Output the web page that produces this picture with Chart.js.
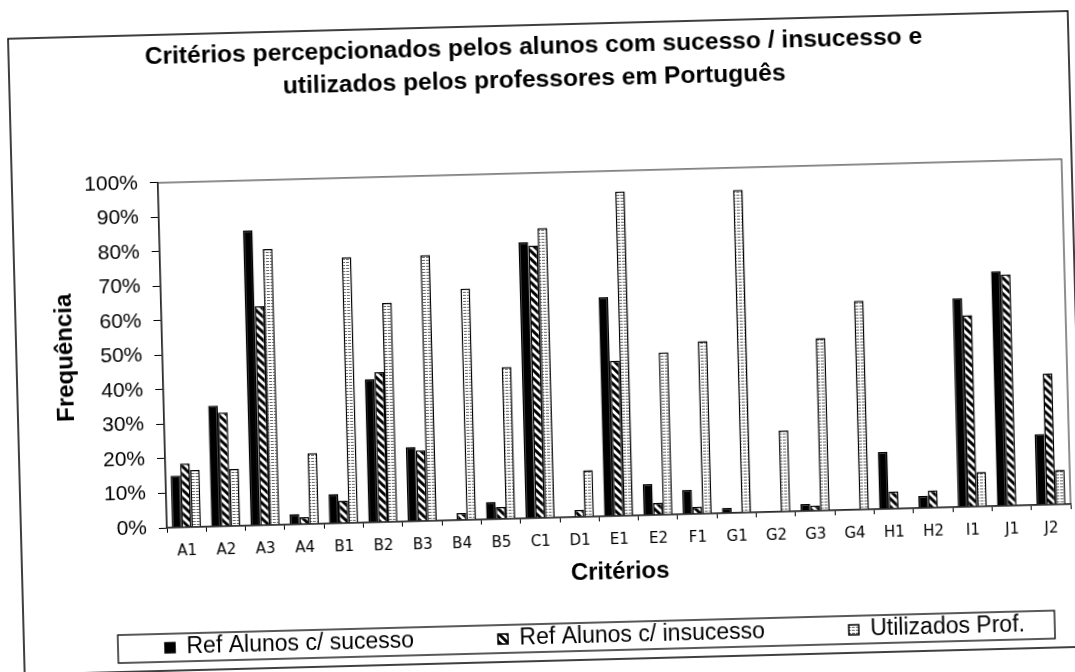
<!DOCTYPE html>
<html>
<head>
<meta charset="utf-8">
<script src="https://cdn.jsdelivr.net/npm/chart.js@4.4.1/dist/chart.umd.min.js"></script>
<style>
  html, body { margin: 0; padding: 0; background: #ffffff; overflow: hidden; width: 1075px; height: 672px; }
  #wrap { position: absolute; left: -12px; top: -14px; width: 1100px; height: 760px;
          transform: rotate(-1.5deg); transform-origin: 549.5px 350px; }
  canvas { display: block; }
</style>
</head>
<body>
<div id="wrap"><canvas id="c" width="1100" height="760"></canvas></div>
<script>
// ---- data ----
const categories = ['A1','A2','A3','A4','B1','B2','B3','B4','B5','C1','D1','E1','E2','F1','G1','G2','G3','G4','H1','H2','I1','J1','J2'];
const sucesso    = [15, 35, 85.5, 3, 8.5, 41.5, 21.5, 0, 5, 80, 0, 63.5, 9, 7, 1.5, 0, 2, 0, 16.5, 3.5, 60.5, 68, 20.5];
const insucesso  = [18.5, 33, 63.5, 2, 6.5, 43.5, 20.5, 2, 3.5, 79, 2, 45, 3.5, 2, 0, 0, 1.5, 0, 5, 5, 55.5, 67, 38];
const utilizados = [16.5, 16.5, 80, 20.5, 77, 63.5, 77, 67, 44, 84, 13.5, 94, 47, 50, 93.5, 23.5, 50, 60.5, 0, 0, 10, 0, 10];
const seriesNames = ['Ref Alunos c/ sucesso', 'Ref Alunos c/ insucesso', 'Utilizados Prof.'];
const yTickLabels = ['0%','10%','20%','30%','40%','50%','60%','70%','80%','90%','100%'];
const titleLines = ['Critérios percepcionados pelos alunos com sucesso / insucesso e', 'utilizados pelos professores em Português'];
const xTitle = 'Critérios';
const yTitle = 'Frequência';

// ---- patterns ----
function stripePattern() {
  const c = document.createElement('canvas'); c.width = 8; c.height = 8;
  const g = c.getContext('2d');
  g.fillStyle = '#fff'; g.fillRect(0, 0, 8, 8);
  g.strokeStyle = '#000'; g.lineWidth = 3;
  g.beginPath();
  g.moveTo(-2, -2); g.lineTo(10, 10);
  g.moveTo(-2, 6); g.lineTo(2, 10);
  g.moveTo(6, -2); g.lineTo(10, 2);
  g.stroke();
  return g.createPattern(c, 'repeat');
}
function dashPattern() {
  const c = document.createElement('canvas'); c.width = 4; c.height = 3;
  const g = c.getContext('2d');
  g.fillStyle = '#fff'; g.fillRect(0, 0, 4, 3);
  g.fillStyle = '#6a6a6a'; g.fillRect(0, 1, 3, 1);
  return g.createPattern(c, 'repeat');
}

const SANS = "'Liberation Sans', Arial, sans-serif";

const decor = {
  id: 'decor',
  afterLayout(chart) {
    const L = chart.legend;
    if (!L || !L.lineWidths) return;
    const p = L.options.labels.padding;
    const fs = L.options.labels.font.size;
    const dy = 652 - (L.top + p + fs / 2);
    const start = (L.left + p + L.right - L.lineWidths[0]) / 2;
    const dx = 169 - start;
    L.top += dy; L.bottom += dy; L.left += dx; L.right += dx;
  },
  afterDraw(chart) {
    const ctx = chart.ctx;
    const a = chart.chartArea;
    ctx.save();
    // plot area border
    ctx.strokeStyle = '#444'; ctx.lineWidth = 1.2;
    ctx.strokeRect(a.left, a.top, a.right - a.left, a.bottom - a.top);
    // legend frame
    ctx.strokeStyle = '#000'; ctx.lineWidth = 1.3;
    ctx.strokeRect(122, 638, 937, 28);
    // outer frame
    ctx.lineWidth = 1.5;
    ctx.strokeRect(28, 39, 1060, 636);
    ctx.restore();
  }
};

new Chart(document.getElementById('c'), {
  type: 'bar',
  data: {
    labels: categories,
    datasets: [
      { label: seriesNames[0], data: sucesso, backgroundColor: '#000', borderColor: '#000', borderWidth: 1.5 },
      { label: seriesNames[1], data: insucesso, backgroundColor: stripePattern(), borderColor: '#000', borderWidth: 1.5 },
      { label: seriesNames[2], data: utilizados, backgroundColor: dashPattern(), borderColor: '#000', borderWidth: 1.5 }
    ]
  },
  options: {
    responsive: false,
    animation: false,
    devicePixelRatio: 1,
    datasets: { bar: { categoryPercentage: 0.74, barPercentage: 1.0 } },
    layout: { padding: { left: 28, right: 22, top: 0, bottom: 0 } },
    plugins: {
      tooltip: { enabled: false },
      title: {
        display: true, text: titleLines, color: '#000',
        font: { family: SANS, size: 24.6, weight: 'bold', lineHeight: 1.34 },
        padding: { top: 44.5, bottom: 76.5 }
      },
      legend: {
        display: true, position: 'bottom',
        labels: {
          color: '#000', boxWidth: 10, boxHeight: 10, padding: 84,
          font: { family: SANS, size: 23 }
        }
      }
    },
    scales: {
      x: {
        afterFit: (s) => { s.height = 111; },
        grid: { display: true, drawOnChartArea: false, drawTicks: true, tickLength: 5, color: '#000', offset: true },
        border: { display: true, color: '#000', width: 1.5 },
        ticks: { color: '#000', font: { family: "'DejaVu Sans', Verdana, sans-serif", size: 15 }, padding: 10, maxRotation: 0, autoSkip: false },
        title: { display: true, text: xTitle, color: '#000', font: { family: SANS, size: 24, weight: 'bold' }, padding: { top: 0, bottom: 40.6 } }
      },
      y: {
        min: 0, max: 100,
        afterFit: (s) => { s.width = 146; },
        grid: { display: true, drawOnChartArea: false, drawTicks: true, tickLength: 8, color: '#000' },
        border: { display: true, color: '#000', width: 1.5 },
        ticks: {
          stepSize: 10, color: '#000', padding: 12,
          font: { family: SANS, size: 21 },
          callback: (v, i) => yTickLabels[i]
        },
        title: { display: true, text: yTitle, color: '#000', font: { family: SANS, size: 24, weight: 'bold' }, padding: { top: 34.6, bottom: 0 } }
      }
    }
  },
  plugins: [decor]
});
</script>
</body>
</html>
